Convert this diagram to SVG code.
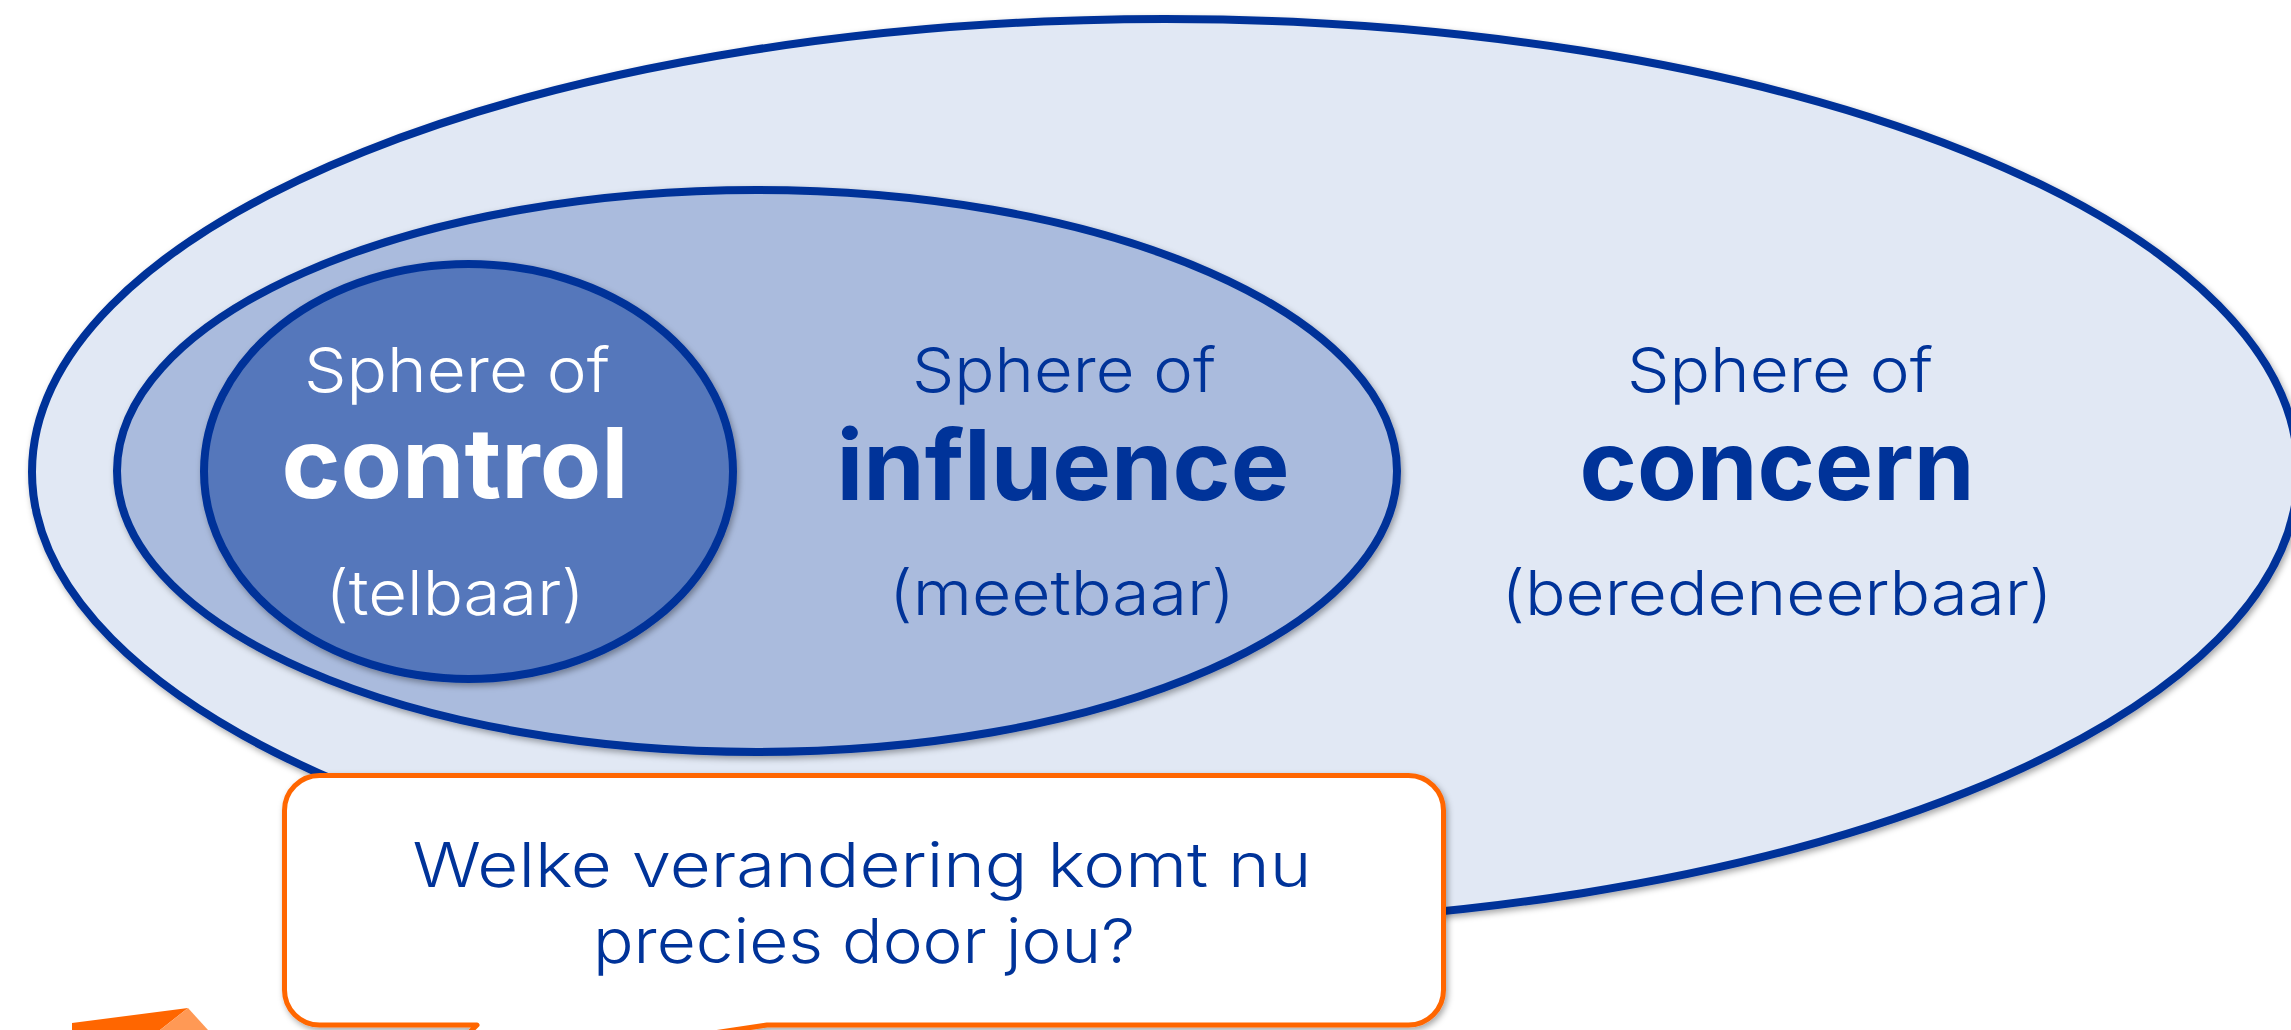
<svg xmlns="http://www.w3.org/2000/svg" width="2291" height="1030" viewBox="0 0 2291 1030">
  <defs>
    <filter id="shadow" x="-10%" y="-10%" width="120%" height="120%">
      <feDropShadow dx="2" dy="3" stdDeviation="3" flood-color="#000" flood-opacity="0.35"/>
    </filter>
    <style>
      .sphere { stroke: #003399; stroke-width: 8; filter: url(#shadow); }
      .light { font-family: Inter, "Open Sans", "Liberation Sans", sans-serif; font-weight: 300; font-size: 62px; text-anchor: middle; }
      .bold { font-family: Inter, "Open Sans", "Liberation Sans", sans-serif; font-weight: 700; font-size: 97px; text-anchor: middle; }
      .blue { fill: #003399; }
      .white { fill: #ffffff; }
    </style>
  </defs>
  <rect width="2291" height="1030" fill="#ffffff"/>

  <g id="concern">
    <ellipse class="sphere" cx="1165" cy="472" rx="1133" ry="453" fill="#E1E8F4"/>
    <text class="light blue" x="1780" y="392" textLength="306" lengthAdjust="spacingAndGlyphs">Sphere of</text>
    <text class="bold blue" x="1777" y="500" textLength="395" lengthAdjust="spacingAndGlyphs">concern</text>
    <text class="light blue" x="1777" y="615" textLength="551" lengthAdjust="spacingAndGlyphs">(beredeneerbaar)</text>
  </g>

  <g id="influence">
    <ellipse class="sphere" cx="757" cy="471" rx="640" ry="281" fill="#AABBDD"/>
    <text class="light blue" x="1064" y="392" textLength="304" lengthAdjust="spacingAndGlyphs">Sphere of</text>
    <text class="bold blue" x="1063" y="500" textLength="453" lengthAdjust="spacingAndGlyphs">influence</text>
    <text class="light blue" x="1062" y="615" textLength="346" lengthAdjust="spacingAndGlyphs">(meetbaar)</text>
  </g>

  <g id="control">
    <ellipse class="sphere" cx="468.5" cy="471.5" rx="264.5" ry="207.5" fill="#5577BB"/>
    <text class="light white" x="457" y="392" textLength="306" lengthAdjust="spacingAndGlyphs">Sphere of</text>
    <text class="bold white" x="455" y="498" textLength="347" lengthAdjust="spacingAndGlyphs">control</text>
    <text class="light white" x="455" y="615" textLength="259" lengthAdjust="spacingAndGlyphs">(telbaar)</text>
  </g>

  <g id="connectors"/>

  <g id="figure">
    <polygon points="72,1030 72,1023 188,1008 160,1030" fill="#FF6600"/>
    <polygon points="188,1008 208,1030 160,1030" fill="#FF9955"/>
  </g>

  <g id="callout">
    <path d="M 319.5 775.5 H 1408.5 A 35 35 0 0 1 1443.5 810.5 V 990 A 35 35 0 0 1 1408.5 1025 H 767 L 426 1076 L 477 1025 H 319.5 A 35 35 0 0 1 284.5 990 V 810.5 A 35 35 0 0 1 319.5 775.5 Z" fill="#ffffff" stroke="#FF6600" stroke-width="5" stroke-linejoin="round" filter="url(#shadow)"/>
    <text class="light blue" x="862" y="887" textLength="899" lengthAdjust="spacingAndGlyphs">Welke verandering komt nu</text>
    <text class="light blue" x="864" y="963" textLength="542" lengthAdjust="spacingAndGlyphs">precies door jou?</text>
  </g>
</svg>
